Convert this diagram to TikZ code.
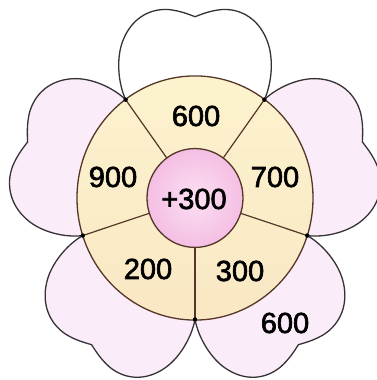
\documentclass[tikz,border=0pt]{standalone}
\usepackage{fontspec}
\setmainfont{Liberation Sans}
\newfontfamily\numfont{Liberation Sans}[FakeBold=2.2]
\definecolor{petalpink}{RGB}{250,236,248}
\definecolor{petalwhite}{RGB}{255,255,255}
\definecolor{ringyellow}{RGB}{252,243,206}
\definecolor{ringdeep}{RGB}{250,231,196}
\definecolor{pinkin}{RGB}{252,224,244}
\definecolor{pinkout}{RGB}{244,190,227}
\definecolor{outline}{RGB}{55,50,55}
\definecolor{brownline}{RGB}{85,55,40}
\newcommand{\flowerpetal}[2]{%
  \filldraw[petalline,fill=#2,rotate=#1-90]
    (0,60) -- (-69.4,95.5)
    .. controls (-77,112) and (-79,136) .. (-72,153)
    .. controls (-64,173) and (-47,184) .. (-27,183)
    .. controls (-16,182) and (-8,179) .. (0,176)
    .. controls (8,179) and (16,182) .. (27,183)
    .. controls (47,184) and (64,173) .. (72,153)
    .. controls (79,136) and (77,112) .. (69.4,95.5)
    -- cycle;}
\begin{document}
\begin{tikzpicture}[x=1pt,y=1pt,
  petalline/.style={draw=outline,line width=1.3pt,line join=round},
  numtext/.style={font=\numfont\fontsize{29}{30}\selectfont,text=black,inner sep=0pt}]
\useasboundingbox (0,0) rectangle (377,380);
\begin{scope}[shift={(195,182)},yscale=1.03]
  \flowerpetal{90}{petalwhite}
  \flowerpetal{162}{petalpink}
  \flowerpetal{234}{petalpink}
  \flowerpetal{306}{petalpink}
  \flowerpetal{18}{petalpink}
  \shade[top color=ringyellow,bottom color=ringdeep] (0,0) circle[x radius=118,y radius=118.5];
  \draw[brownline,line width=1.3pt] (0,0) circle[x radius=118,y radius=118.5];
  \foreach \a in {54,126,198,270,342}{
    \draw[brownline,line width=1.2pt] (\a:48) -- (\a:118);
    \fill[black] (\a:118) circle[radius=2.2];
  }
  \shade[inner color=pinkin,outer color=pinkout] (0,0) circle[radius=48];
  \draw[brownline,line width=1.3pt] (0,0) circle[radius=48];
\end{scope}
\node[numtext] (t600) at (196,264) {600};
\node[numtext] (t900) at (113,203) {900};
\node[numtext] (t700) at (275,203) {700};
\node[numtext] (tc) at (194,181) {+300};
\node[numtext] (t200) at (148,111) {200};
\node[numtext] (t300) at (240,109) {300};
\node[numtext] (t600b) at (285,57) {600};
\end{tikzpicture}
\end{document}
